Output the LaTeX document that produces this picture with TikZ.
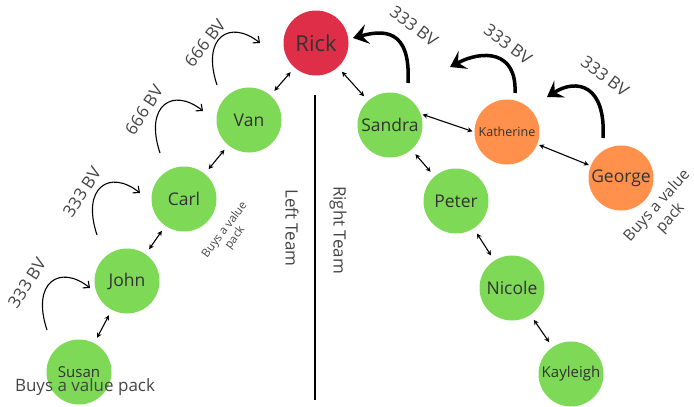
\documentclass[tikz,border=0pt]{standalone}
\usepackage{fontspec}
\setmainfont{Open Sans}
\usepackage{tikz}
\usetikzlibrary{arrows.meta}
\definecolor{mgreen}{HTML}{7ED957}
\definecolor{mred}{HTML}{DF2F48}
\definecolor{morange}{HTML}{FF914D}
\definecolor{mtext}{HTML}{454545}

\begin{document}
\begin{tikzpicture}[x=1pt, y=-1pt,
    member/.style={shape=circle, fill=mgreen, minimum size=65pt, inner sep=0pt, text=black!80, font=\fontsize{17.5}{20}\selectfont},
    link/.style={{Stealth[length=5pt,width=5pt]}-{Stealth[length=5pt,width=5pt]}, line width=1.1pt, shorten <=6pt, shorten >=6pt},
    passup/.style={line width=1.1pt, -{Straight Barb[length=5pt,width=9pt]}},
    passback/.style={line width=3.5pt, -{Stealth[length=15pt,width=20pt,inset=6pt]}},
    bv/.style={text=mtext, font=\fontsize{17}{20}\selectfont},
    team/.style={text=mtext, font=\fontsize{17}{20}\selectfont, rotate=-90}]
    \useasboundingbox (0,0) rectangle (694,407);

    \draw[line width=1.2pt] (315,95) coordinate (divtop) -- (315,400) coordinate (divbot);
    \node[team] (leftteam) at (292,228) {Left Team};
    \node[team] (rightteam) at (338,230) {Right Team};

    \node[member, fill=mred, font=\fontsize{22}{24}\selectfont] (rick) at (316,43) {Rick};
    \node[member] (van) at (249,120) {Van};
    \node[member] (carl) at (184,199) {Carl};
    \node[member] (john) at (127,281) {John};
    \node[member, font=\fontsize{15}{18}\selectfont] (susan) at (79,372) {Susan};
    \node[member] (sandra) at (390,125) {Sandra};
    \node[member] (peter) at (456,201) {Peter};
    \node[member] (nicole) at (512,288) {Nicole};
    \node[member, font=\fontsize{15}{18}\selectfont] (kayleigh) at (571,374) {Kayleigh};
    \node[member, fill=morange, font=\fontsize{12.5}{15}\selectfont] (katherine) at (507,132) {Katherine};
    \node[member, fill=morange] (george) at (621,178) {George};

    \foreach \a/\b in {rick/van, van/carl, carl/john, john/susan, rick/sandra, sandra/peter, peter/nicole, nicole/kayleigh}
      \draw[link] (\a) -- (\b);
    \draw[link, shorten <=2pt, shorten >=2pt] (sandra.20) -- (katherine.west);
    \draw[link, shorten <=2pt, shorten >=2pt] (katherine) -- (george);

    \foreach \n/\sx/\sy in {r/217/85, v/160/153, c/97/235, j/47/330} {
      \coordinate (\n from) at (\sx,\sy);
      \coordinate (\n to) at ({\sx+43},{\sy-42});
      \draw[passup] (\n from) .. controls +(-16,-48) and +(-30,-24) .. (\n to);
    }
    \node[bv, rotate=52] (bvrick) at (205,43) {666 BV};
    \node[bv, rotate=57] (bvvan) at (144,110) {666 BV};
    \node[bv, rotate=57] (bvcarl) at (82,192) {333 BV};
    \node[bv, rotate=57] (bvjohn) at (27,283) {333 BV};

    \coordinate (sfrom) at (408,83);
    \coordinate (sto) at (353,38);
    \coordinate (kfrom) at (515,93);
    \coordinate (kto) at (450,67);
    \coordinate (gfrom) at (603,138);
    \coordinate (gto) at (547,97);
    \draw[passback] (sfrom) .. controls (411,28) and (383,30) .. (sto);
    \draw[passback] (kfrom) .. controls (517,50) and (482,50) .. (kto);
    \draw[passback] (gfrom) .. controls (606,85) and (577,78) .. (gto);
    \node[bv, rotate=-37] (bvsandra) at (414,26) {333 BV};
    \node[bv, rotate=-37] (bvkatherine) at (508,44) {333 BV};
    \node[bv, rotate=-37] (bvgeorge) at (605,76) {333 BV};

    \node[text=mtext, font=\fontsize{17}{20}\selectfont] (buysusan) at (85,387) {Buys a value pack};
    \node[text=mtext, font=\fontsize{11.5}{13}\selectfont, align=center, rotate=53] (buycarl) at (230,234) {Buys a value\\pack};
    \node[text=mtext, font=\fontsize{15.5}{18}\selectfont, align=center, rotate=48] (buygeorge) at (664,212) {Buys a value\\pack};
\end{tikzpicture}
\end{document}
